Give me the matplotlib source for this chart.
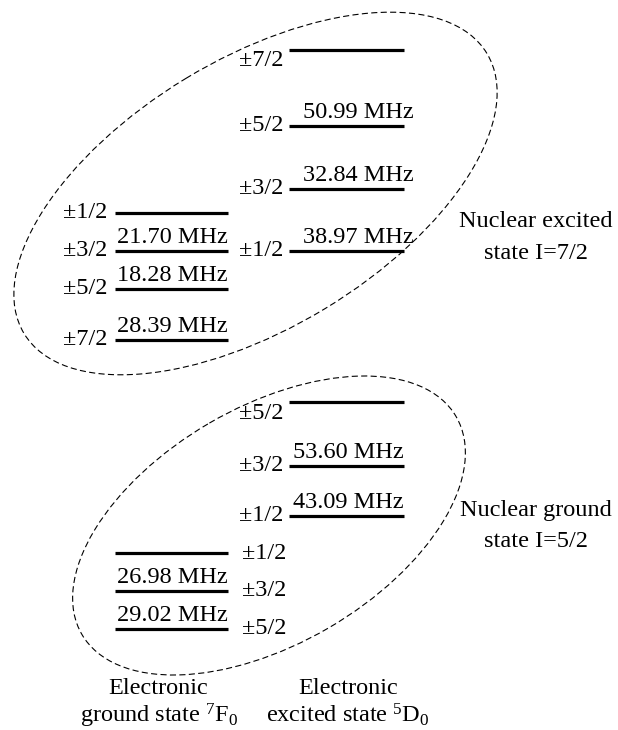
import matplotlib
matplotlib.use("Agg")
import matplotlib.pyplot as plt
from matplotlib.patches import Ellipse

plt.rcParams['font.family'] = ['Liberation Serif', 'DejaVu Serif']
plt.rcParams['mathtext.fontset'] = 'custom'
plt.rcParams['mathtext.rm'] = 'Liberation Serif'
plt.rcParams['mathtext.default'] = 'regular'

# nuclear excited manifold I=7/2
exc_D0_levels = ['±7/2', '±5/2', '±3/2', '±1/2']
exc_D0_split = ['50.99 MHz', '32.84 MHz', '38.97 MHz']
exc_F0_levels = ['±1/2', '±3/2', '±5/2', '±7/2']
exc_F0_split = ['21.70 MHz', '18.28 MHz', '28.39 MHz']

# nuclear ground manifold I=5/2
gnd_D0_levels = ['±5/2', '±3/2', '±1/2']
gnd_D0_split = ['53.60 MHz', '43.09 MHz']
gnd_F0_levels = ['±1/2', '±3/2', '±5/2']
gnd_F0_split = ['26.98 MHz', '29.02 MHz']

# drawing layout (pixel units, y downwards)
exc_D0_y = [50, 126, 189, 251]
exc_F0_y = [213, 251, 289, 340]
gnd_D0_y = [402, 466, 516]
gnd_F0_y = [553, 591, 629]
col_D0 = (289, 404)
col_F0 = (115, 228)

FS = 17.5
LW = 2.3

fig = plt.figure(figsize=(6.18, 7.30), dpi=100)
ax = fig.add_axes([0, 0, 1, 1])
ax.set_xlim(0, 618)
ax.set_ylim(730, 0)
ax.axis('off')


def draw_levels(ys, col, labels, lab_x, lab_ha, splits, split_x, top_drop=5):
    for i, (y, lab) in enumerate(zip(ys, labels)):
        ax.plot(col, [y, y], color='black', lw=LW, solid_capstyle='butt')
        dy = top_drop if i == 0 else 5
        ax.text(lab_x, y + dy, lab, ha=lab_ha, va='baseline', fontsize=FS)
    for i, s in enumerate(splits):
        ax.text(split_x, ys[i + 1] - 8, s, ha='right', va='baseline', fontsize=FS)


draw_levels(exc_D0_y, col_D0, exc_D0_levels, 283, 'right', exc_D0_split, 414, top_drop=16)
draw_levels(exc_F0_y, col_F0, exc_F0_levels, 107, 'right', exc_F0_split, 228)
draw_levels(gnd_D0_y, col_D0, gnd_D0_levels, 283, 'right', gnd_D0_split, 404, top_drop=17)
draw_levels(gnd_F0_y, col_F0, gnd_F0_levels, 242, 'left', gnd_F0_split, 228, top_drop=6)

# dashed outlines around each nuclear manifold
dash = (0, (5.5, 3))
ax.add_patch(Ellipse((255.5, 193.5), 541, 269, angle=-31.2, fill=False,
                     ec='black', lw=0.8, linestyle=dash))
ax.add_patch(Ellipse((269, 525.5), 433, 237, angle=-30.2, fill=False,
                     ec='black', lw=0.8, linestyle=dash))

ax.text(536, 227, 'Nuclear excited', ha='center', va='baseline', fontsize=FS)
ax.text(536, 259, 'state I=7/2', ha='center', va='baseline', fontsize=FS)
ax.text(536, 516, 'Nuclear ground', ha='center', va='baseline', fontsize=FS)
ax.text(536, 547, 'state I=5/2', ha='center', va='baseline', fontsize=FS)

ax.text(158, 694, 'Electronic', ha='center', va='baseline', fontsize=FS)
ax.text(159, 722, 'ground state $^{7}$F$_{0}$', ha='center', va='baseline', fontsize=FS)
ax.text(348, 694, 'Electronic', ha='center', va='baseline', fontsize=FS)
ax.text(348, 722, 'excited state $^{5}$D$_{0}$', ha='center', va='baseline', fontsize=FS)

fig.savefig('out.png', dpi=100)
